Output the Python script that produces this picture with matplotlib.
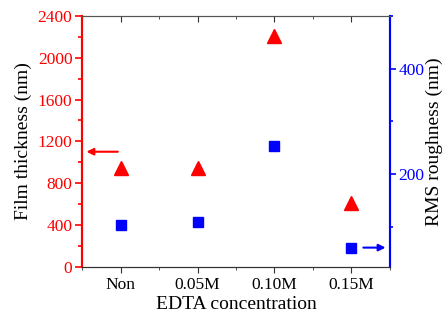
import matplotlib
matplotlib.use('Agg')
import matplotlib.pyplot as plt
from matplotlib.ticker import MultipleLocator

plt.rcParams['font.family'] = 'Liberation Serif'

# data
categories = ['Non', '0.05M', '0.10M', '0.15M']
thickness = [940, 945, 2210, 610]      # nm, left axis
roughness = [103, 108, 253, 60]        # nm, right axis

x = list(range(1, len(categories) + 1))

fig = plt.figure(figsize=(4.44, 3.2), dpi=100)
ax = fig.add_axes([0.185, 0.167, 0.693, 0.783])
ax2 = ax.twinx()

ax.plot(x, thickness, linestyle='none', marker='^', color='red', markersize=9.5)
ax2.plot(x, roughness, linestyle='none', marker='s', color='blue', markersize=7.5)

ax.set_xlim(0.5, 4.5)
ax.set_ylim(0, 2400)
ax2.set_ylim(24, 500)

ax.set_xticks(x)
ax.set_xticklabels(categories)
ax.xaxis.set_minor_locator(MultipleLocator(0.5))
ax.yaxis.set_major_locator(MultipleLocator(400))
ax.yaxis.set_minor_locator(MultipleLocator(200))
ax2.yaxis.set_major_locator(MultipleLocator(200))
ax2.yaxis.set_minor_locator(MultipleLocator(100))

ax.tick_params(axis='x', which='both', direction='out', labelsize=12.5,
               color='#333333')
ax.tick_params(axis='x', which='major', length=4)
ax.tick_params(axis='x', which='minor', length=2)
ax.tick_params(axis='y', which='both', colors='red', labelsize=12.5, width=1.2, pad=2)
ax.tick_params(axis='y', which='major', length=5)
ax.tick_params(axis='y', which='minor', length=3)
ax2.tick_params(axis='y', which='both', colors='blue', labelsize=12.5, width=1.2, pad=2)
ax2.tick_params(axis='y', which='major', length=4)
ax2.tick_params(axis='y', which='minor', length=2.5)

# top ticks pointing inward
secx = ax.secondary_xaxis('top')
secx.set_xticks(x)
secx.xaxis.set_minor_locator(MultipleLocator(0.5))
secx.tick_params(which='both', direction='in', labeltop=False, color='#333333')
secx.tick_params(which='major', length=4)
secx.tick_params(which='minor', length=2)
secx.spines['top'].set_visible(False)

for a in (ax, ax2):
    a.spines['top'].set_color('#555555')
    a.spines['bottom'].set_color('#333333')
    a.spines['left'].set_color('red')
    a.spines['right'].set_color('blue')
    a.spines['left'].set_linewidth(1.5)
    a.spines['right'].set_linewidth(1.5)

ax.set_xlabel('EDTA concentration', fontsize=14, labelpad=2)
ax.set_ylabel('Film thickness (nm)', fontsize=14, labelpad=4)
ax2.set_ylabel('RMS roughness (nm)', fontsize=14, labelpad=1)

# arrows pointing to the matching axis
ax.annotate('', xy=(0.52, 1100), xytext=(1.0, 1100),
            arrowprops=dict(arrowstyle='-|>', color='red', lw=1.5, mutation_scale=10))
ax2.annotate('', xy=(4.48, 60), xytext=(4.12, 60),
             arrowprops=dict(arrowstyle='-|>', color='blue', lw=1.5, mutation_scale=10))

fig.savefig('out.png', dpi=100)
